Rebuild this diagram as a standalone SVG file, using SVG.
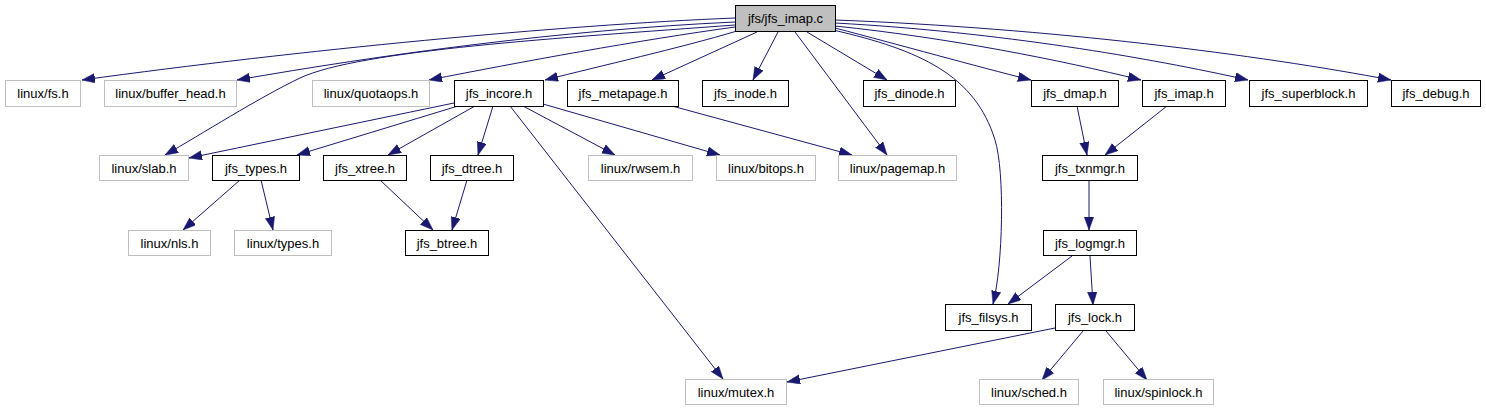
<svg xmlns="http://www.w3.org/2000/svg" width="1486" height="411" viewBox="0 0 1486 411">
<style>
  .n rect { fill: #ffffff; stroke: #000000; stroke-width: 1; }
  .g rect { fill: #ffffff; stroke: #bfbfbf; stroke-width: 1; }
  .root rect { fill: #bfbfbf; stroke: #000000; stroke-width: 1; }
  text { font-family: "Liberation Sans", Arial, sans-serif; font-size: 13px; fill: #000000; text-anchor: middle; }
  #edges path { fill: none; stroke: #191970; stroke-width: 1; marker-end: url(#arr); }
</style>
<defs>
  <marker id="arr" markerUnits="userSpaceOnUse" markerWidth="13" markerHeight="10" refX="13" refY="4.7" orient="auto">
    <path d="M0,0 L13,4.7 L0,9.4 z" fill="#191970" stroke="#191970" stroke-width="0.5"/>
  </marker>
</defs>
<rect width="1486" height="411" fill="#ffffff"/>
<g id="edges">
  <path d="M735,18 C560,25 300,50 82,80"/>
  <path d="M735,22 C560,30 380,55 237,80"/>
  <path d="M735,25 C560,38 360,50 300,78 C260,97 200,135 165,155"/>
  <path d="M735,27 C640,40 520,62 429,80"/>
  <path d="M737,31 C680,48 600,66 545,80"/>
  <path d="M757,32 L652,80"/>
  <path d="M778,32 L753,80"/>
  <path d="M795,32 L887,155"/>
  <path d="M807,32 L887,80"/>
  <path d="M833,30 C920,50 975,75 995,140 C1005,172 1003,265 993,304"/>
  <path d="M835,28 C900,45 975,66 1031,80"/>
  <path d="M835,26 C950,38 1060,60 1141,80"/>
  <path d="M835,23 C1000,32 1150,58 1248,80"/>
  <path d="M835,20 C1050,28 1260,55 1391,80"/>
  <path d="M454,103 L189,158"/>
  <path d="M458,106 L297,155"/>
  <path d="M475,106 L388,155"/>
  <path d="M493,106 L478,155"/>
  <path d="M510,106 L723,379"/>
  <path d="M523,106 L615,155"/>
  <path d="M543,104 L720,155"/>
  <path d="M672,106 L852,155"/>
  <path d="M240,180 L183,230"/>
  <path d="M261,180 L273,230"/>
  <path d="M380,180 L433,230"/>
  <path d="M467,180 L452,230"/>
  <path d="M1077,106 L1087,155"/>
  <path d="M1167,106 L1105,155"/>
  <path d="M1089,181 L1089,230"/>
  <path d="M1072,256 L1008,304"/>
  <path d="M1090,256 L1093,305"/>
  <path d="M1055,328 L787,382"/>
  <path d="M1083,331 L1042,380"/>
  <path d="M1106,331 L1147,380"/>
</g>
<g id="node_jfs_imap_c" class="root"><rect x="735.5" y="5.5" width="100" height="26"/><text x="785.5" y="23">jfs/jfs_imap.c</text></g>
<g id="node_linux_fs_h" class="g"><rect x="5.5" y="80.5" width="75" height="26"/><text x="43" y="98">linux/fs.h</text></g>
<g id="node_linux_buffer_head_h" class="g"><rect x="104.5" y="80.5" width="132" height="26"/><text x="170.5" y="98">linux/buffer_head.h</text></g>
<g id="node_linux_quotaops_h" class="g"><rect x="312.5" y="80.5" width="117" height="26"/><text x="371" y="98">linux/quotaops.h</text></g>
<g id="node_jfs_incore_h" class="n"><rect x="454.5" y="80.5" width="89" height="26"/><text x="499" y="98">jfs_incore.h</text></g>
<g id="node_jfs_metapage_h" class="n"><rect x="567.5" y="80.5" width="111" height="26"/><text x="623" y="98">jfs_metapage.h</text></g>
<g id="node_jfs_inode_h" class="n"><rect x="702.5" y="80.5" width="86" height="26"/><text x="745.5" y="98">jfs_inode.h</text></g>
<g id="node_jfs_dinode_h" class="n"><rect x="863.5" y="80.5" width="92" height="26"/><text x="909.5" y="98">jfs_dinode.h</text></g>
<g id="node_jfs_dmap_h" class="n"><rect x="1031.5" y="80.5" width="87" height="26"/><text x="1075" y="98">jfs_dmap.h</text></g>
<g id="node_jfs_imap_h" class="n"><rect x="1142.5" y="80.5" width="83" height="26"/><text x="1184" y="98">jfs_imap.h</text></g>
<g id="node_jfs_superblock_h" class="n"><rect x="1249.5" y="80.5" width="118" height="26"/><text x="1308.5" y="98">jfs_superblock.h</text></g>
<g id="node_jfs_debug_h" class="n"><rect x="1391.5" y="80.5" width="89" height="26"/><text x="1436" y="98">jfs_debug.h</text></g>
<g id="node_linux_slab_h" class="g"><rect x="99.5" y="155.5" width="89" height="25"/><text x="144" y="173">linux/slab.h</text></g>
<g id="node_jfs_types_h" class="n"><rect x="212.5" y="155.5" width="87" height="25"/><text x="256" y="173">jfs_types.h</text></g>
<g id="node_jfs_xtree_h" class="n"><rect x="323.5" y="155.5" width="83" height="25"/><text x="365" y="173">jfs_xtree.h</text></g>
<g id="node_jfs_dtree_h" class="n"><rect x="430.5" y="155.5" width="83" height="25"/><text x="472" y="173">jfs_dtree.h</text></g>
<g id="node_linux_rwsem_h" class="g"><rect x="588.5" y="155.5" width="104" height="25"/><text x="640.5" y="173">linux/rwsem.h</text></g>
<g id="node_linux_bitops_h" class="g"><rect x="716.5" y="155.5" width="99" height="25"/><text x="766" y="173">linux/bitops.h</text></g>
<g id="node_linux_pagemap_h" class="g"><rect x="838.5" y="155.5" width="118" height="25"/><text x="897.5" y="173">linux/pagemap.h</text></g>
<g id="node_jfs_txnmgr_h" class="n"><rect x="1042.5" y="155.5" width="95" height="25"/><text x="1090" y="173">jfs_txnmgr.h</text></g>
<g id="node_linux_nls_h" class="g"><rect x="128.5" y="230.5" width="82" height="25"/><text x="169.5" y="248">linux/nls.h</text></g>
<g id="node_linux_types_h" class="g"><rect x="234.5" y="230.5" width="97" height="25"/><text x="283" y="248">linux/types.h</text></g>
<g id="node_jfs_btree_h" class="n"><rect x="405.5" y="230.5" width="83" height="25"/><text x="447" y="248">jfs_btree.h</text></g>
<g id="node_jfs_logmgr_h" class="n"><rect x="1043.5" y="230.5" width="93" height="25"/><text x="1090" y="248">jfs_logmgr.h</text></g>
<g id="node_jfs_filsys_h" class="n"><rect x="945.5" y="304.5" width="86" height="26"/><text x="988.5" y="322">jfs_filsys.h</text></g>
<g id="node_jfs_lock_h" class="n"><rect x="1055.5" y="304.5" width="79" height="26"/><text x="1095" y="322">jfs_lock.h</text></g>
<g id="node_linux_mutex_h" class="g"><rect x="685.5" y="379.5" width="101" height="25"/><text x="736" y="397">linux/mutex.h</text></g>
<g id="node_linux_sched_h" class="g"><rect x="979.5" y="379.5" width="99" height="25"/><text x="1029" y="397">linux/sched.h</text></g>
<g id="node_linux_spinlock_h" class="g"><rect x="1103.5" y="379.5" width="110" height="25"/><text x="1158.5" y="397">linux/spinlock.h</text></g>
</svg>
